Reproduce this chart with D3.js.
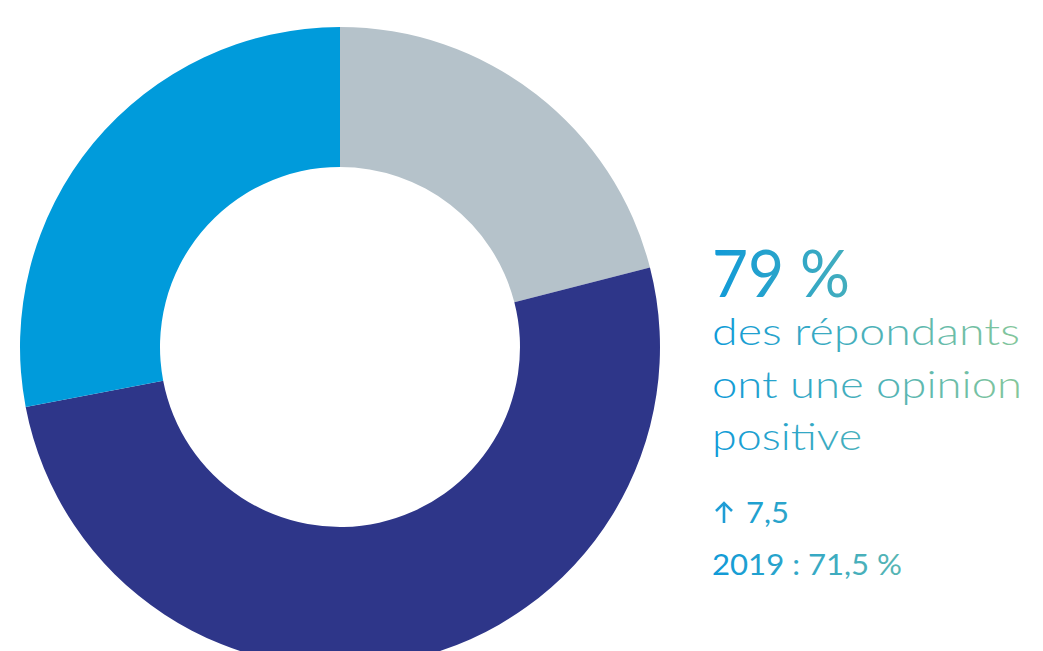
<!DOCTYPE html>
<html><head><meta charset="utf-8">
<script src="https://cdn.jsdelivr.net/npm/d3@7"></script>
<style>html,body{margin:0;padding:0;background:#fff;}svg{display:block;}</style>
</head><body>
<svg id="chart" width="1043" height="651"></svg>
<script>
const categories = ["Opinion négative", "Opinion positive (a)", "Opinion positive (b)"];
const values = [21, 51, 28];
const colors = ["#b5c2ca", "#2e3689", "#009bdb"];
const headline = "79 %";
const bodyLines = ["des répondants", "ont une opinion", "positive"];
const changeLabel = "7,5";
const previousLabel = "2019 : 71,5 %";

const svg = d3.select("#chart");
const cx = 340, cy = 347, rOuter = 320, rInner = 180;

const pie = d3.pie().sort(null).value(d => d)(values);
const arc = d3.arc().innerRadius(rInner).outerRadius(rOuter);
const color = d3.scaleOrdinal().domain(d3.range(values.length)).range(colors);

svg.append("g").attr("transform", `translate(${cx},${cy})`)
  .selectAll("path").data(pie).join("path")
  .attr("d", arc).attr("fill", (d, i) => color(i));

const defs = svg.append("defs");
const grad = defs.append("linearGradient").attr("id", "tg")
  .attr("gradientUnits", "userSpaceOnUse")
  .attr("x1", 712).attr("y1", 0).attr("x2", 1025).attr("y2", 0);
grad.append("stop").attr("offset", "0%").attr("stop-color", "#109ad8");
grad.append("stop").attr("offset", "100%").attr("stop-color", "#86c79a");

const font = "Lato, 'Open Sans', sans-serif";
const tx = 712;
const bodyWidths = [308, 310, 150];
svg.append("text").attr("x", tx).attr("y", 297)
  .attr("font-family", font).attr("font-size", 66).attr("font-weight", 400)
  .attr("textLength", 138).attr("lengthAdjust", "spacingAndGlyphs")
  .attr("fill", "url(#tg)").text(headline);

svg.selectAll("text.body").data(bodyLines).join("text").attr("class", "body")
  .attr("x", tx).attr("y", (d, i) => 345 + i * 52.5)
  .attr("font-family", font).attr("font-size", 38).attr("font-weight", 300)
  .attr("textLength", (d, i) => bodyWidths[i]).attr("lengthAdjust", "spacingAndGlyphs")
  .attr("fill", "url(#tg)").text(d => d);

// up arrow
const ag = svg.append("g").attr("stroke", "#1f9dd6").attr("stroke-width", 2.6).attr("fill", "none");
ag.append("line").attr("x1", 724).attr("y1", 523).attr("x2", 724).attr("y2", 503);
ag.append("path").attr("d", "M716,511 L724,503 L732,511");

svg.append("text").attr("x", 746).attr("y", 523)
  .attr("font-family", font).attr("font-size", 28).attr("font-weight", 400)
  .attr("textLength", 43).attr("lengthAdjust", "spacingAndGlyphs")
  .attr("fill", "url(#tg)").text(changeLabel);
svg.append("text").attr("x", tx).attr("y", 575)
  .attr("font-family", font).attr("font-size", 28).attr("font-weight", 400)
  .attr("textLength", 190).attr("lengthAdjust", "spacingAndGlyphs")
  .attr("fill", "url(#tg)").text(previousLabel);
</script>
</body></html>
